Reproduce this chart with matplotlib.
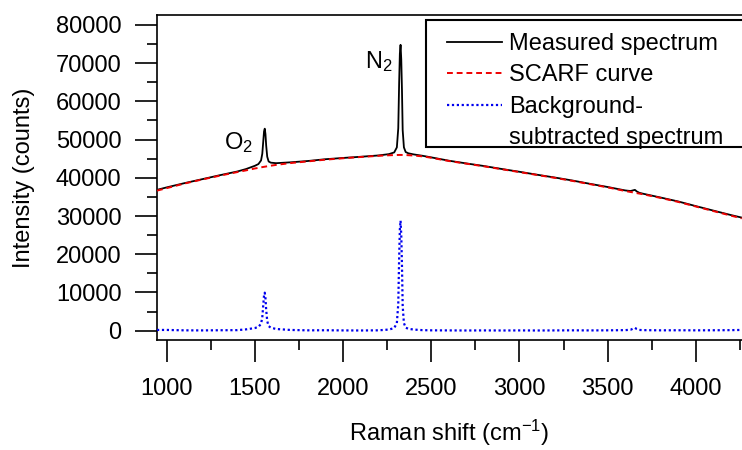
import matplotlib
matplotlib.use("Agg")
import matplotlib.pyplot as plt
from matplotlib.lines import Line2D
from matplotlib.patches import Rectangle
from matplotlib.ticker import MultipleLocator

plt.rcParams['font.family'] = ['Liberation Sans', 'DejaVu Sans']
plt.rcParams['mathtext.fontset'] = 'custom'
plt.rcParams['mathtext.rm'] = 'Liberation Sans'
plt.rcParams['mathtext.it'] = 'Liberation Sans'

raman_shift = [945, 1000, 1100, 1200, 1300, 1400, 1450, 1500, 1520, 1535, 1542, 1548,
               1552, 1556, 1560, 1564, 1570, 1578, 1590, 1620, 1700, 1800, 1900, 2000,
               2100, 2200, 2260, 2290, 2305, 2313, 2318, 2322, 2326, 2330, 2334, 2338,
               2345, 2355, 2370, 2400, 2450, 2500, 2600, 2700, 2800, 2900, 3000, 3100,
               3200, 3300, 3400, 3500, 3600, 3630, 3645, 3655, 3665, 3680, 3700, 3800,
               3900, 4000, 4100, 4200, 4260]

scarf_curve = [36650, 37300, 38500, 39550, 40550, 41500, 41950, 42450, 42600, 42750, 42800, 42850,
               42880, 42910, 42940, 42970, 43020, 43080, 43170, 43380, 43850, 44300, 44750, 45120,
               45450, 45750, 45900, 45950, 45970, 45980, 45985, 45990, 45990, 45990, 45985, 45980,
               45970, 45950, 45920, 45830, 45620, 45250, 44400, 43700, 43000, 42250, 41500, 40750,
               40000, 39200, 38350, 37500, 36550, 36300, 36180, 36100, 36000, 35880, 35700, 34750,
               33700, 32500, 31300, 30100, 29400]

background_subtracted = [200, 200, 100, 80, 120, 150, 350, 700, 1000, 1800, 3500, 7000,
                         9300, 9950, 8500, 5500, 2500, 1200, 800, 450, 200, 100, 120, 80,
                         60, 100, 300, 700, 2000, 7000, 19000, 26500, 28800, 25000, 17000, 6500,
                         2000, 800, 500, 300, 150, 100, 80, 60, 80, 60, 80, 60,
                         80, 100, 80, 100, 150, 250, 550, 750, 450, 200, 150, 100,
                         120, 100, 120, 150, 200]

measured_spectrum = [36850, 37500, 38600, 39630, 40670, 41650, 42300, 43150, 43600, 44550, 46300, 49850,
                     52180, 52860, 51440, 48470, 45520, 44280, 43970, 43830, 44050, 44400, 44870, 45200,
                     45510, 45850, 46200, 46650, 47970, 52980, 64985, 72490, 74790, 70990, 62985, 52480,
                     47970, 46750, 46420, 46130, 45770, 45350, 44480, 43760, 43080, 42310, 41580, 40810,
                     40080, 39300, 38430, 37600, 36700, 36550, 36730, 36850, 36450, 36080, 35850, 34850,
                     33820, 32600, 31420, 30250, 29600]

x_ticks = [1000, 1500, 2000, 2500, 3000, 3500, 4000]
y_ticks = [0, 10000, 20000, 30000, 40000, 50000, 60000, 70000, 80000]

W, H = 742, 450
fig = plt.figure(figsize=(W / 100, H / 100), dpi=100)
ax = fig.add_axes([157 / W, (H - 340) / H, (W - 157) / W, (340 - 15) / H])

ax.plot(raman_shift, measured_spectrum, color='black', lw=1.3, label='Measured spectrum', zorder=3)
ax.plot(raman_shift, scarf_curve, color='#ee0000', lw=1.4, ls=(0, (3, 2)), label='SCARF curve', zorder=4)
ax.plot(raman_shift, background_subtracted, color='#0000ee', lw=1.6, ls=(0, (1, 1.2)),
        label='Background-', zorder=3)

ax.set_xlim(945, 4262)
ax.set_ylim(-2430, 82600)
ax.set_xticks(x_ticks)
ax.set_yticks(y_ticks)
ax.xaxis.set_minor_locator(MultipleLocator(250))
ax.yaxis.set_minor_locator(MultipleLocator(5000))
ax.tick_params(which='major', direction='out', length=15.5, width=1.2, labelsize=17)
ax.tick_params(which='minor', direction='out', length=7.5, width=1.2)
ax.tick_params(axis='x', pad=12)
ax.tick_params(axis='y', pad=10)
for s in ['left', 'bottom', 'top']:
    ax.spines[s].set_linewidth(1.2)
ax.spines['right'].set_visible(False)

ax.set_xlabel(r'Raman shift (cm$^{\mathregular{-1}}$)', fontsize=17, labelpad=13)
ax.set_ylabel('Intensity (counts)', fontsize=17, labelpad=15)

ax.text(1555 - 65, 49200, r'O$_{\mathregular{2}}$', fontsize=17, ha='right', va='center')
ax.text(2326 - 45, 70300, r'N$_{\mathregular{2}}$', fontsize=17, ha='right', va='center')

# legend frame drawn separately (it runs off the right edge)
frame = Rectangle((426 / W, 1 - 147 / H), (780 - 426) / W, (147 - 20) / H,
                  transform=fig.transFigure, facecolor='white', edgecolor='black',
                  linewidth=1.5, zorder=6, clip_on=False)
ax.add_patch(frame)

handles, labels = ax.get_legend_handles_labels()
handles.append(Line2D([], [], color='none'))
labels.append('subtracted spectrum')
leg = ax.legend(handles, labels, loc='upper left', bbox_to_anchor=(447 / W, 1 - 33 / H),
                bbox_transform=fig.transFigure,
                fontsize=17, frameon=False,
                handlelength=2.33, handletextpad=0.3, labelspacing=0.4, borderpad=0,
                borderaxespad=0)
leg.set_zorder(7)

fig.savefig('out.png', dpi=100)
